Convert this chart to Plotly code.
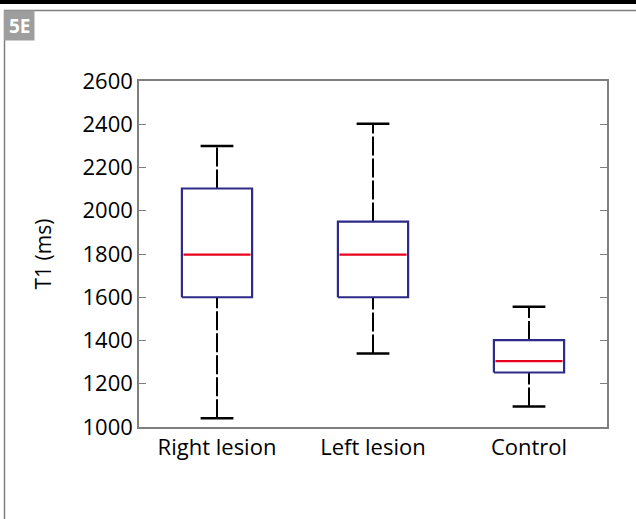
import plotly.graph_objects as go

categories = ["Right lesion", "Left lesion", "Control"]
whisker_low = [1040, 1340, 1095]
q1 = [1600, 1600, 1252]
median = [1797, 1797, 1305]
q3 = [2103, 1950, 1402]
whisker_high = [2300, 2402, 1556]

yticks = [1000, 1200, 1400, 1600, 1800, 2000, 2200, 2400, 2600]

BOX_HALF = 0.225
CAP_HALF = 0.105
NAVY = "#2e2a88"
RED = "#e8001c"
FONT = "Open Sans"

fig = go.Figure()
pos = list(range(1, len(categories) + 1))
for i, p in enumerate(pos):
    # whiskers (dashed)
    fig.add_trace(go.Scatter(x=[p, p], y=[q3[i], whisker_high[i]], mode="lines",
                             line=dict(color="black", width=2, dash="19px,3px"),
                             hoverinfo="skip", showlegend=False))
    fig.add_trace(go.Scatter(x=[p, p], y=[whisker_low[i], q1[i]], mode="lines",
                             line=dict(color="black", width=2, dash="19px,3px"),
                             hoverinfo="skip", showlegend=False))
    # caps
    for v in (whisker_low[i], whisker_high[i]):
        fig.add_trace(go.Scatter(x=[p - CAP_HALF, p + CAP_HALF], y=[v, v], mode="lines",
                                 line=dict(color="black", width=2.5),
                                 hoverinfo="skip", showlegend=False))
    # box
    fig.add_trace(go.Scatter(x=[p - BOX_HALF, p + BOX_HALF, p + BOX_HALF, p - BOX_HALF, p - BOX_HALF],
                             y=[q1[i], q1[i], q3[i], q3[i], q1[i]], mode="lines",
                             fill="toself", fillcolor="white",
                             line=dict(color=NAVY, width=2.2),
                             hoverinfo="skip", showlegend=False))
    # median
    fig.add_trace(go.Scatter(x=[p - BOX_HALF + 0.01, p + BOX_HALF - 0.01], y=[median[i], median[i]],
                             mode="lines", line=dict(color=RED, width=2.2),
                             hoverinfo="skip", showlegend=False))

fig.update_layout(
    width=636, height=519,
    margin=dict(l=139, r=29, t=81, b=92),
    paper_bgcolor="white", plot_bgcolor="white",
    font=dict(family=FONT, size=22, color="black"),
    showlegend=False,
    xaxis=dict(range=[0.5, 3.5], tickvals=pos, ticktext=categories, ticks="",
               showgrid=False, zeroline=False, showline=True, linecolor="#7f7f7f",
               linewidth=1.5, mirror=True, tickfont=dict(size=22)),
    yaxis=dict(range=[1000, 2600], tickvals=yticks, ticks="inside", ticklen=7,
               tickcolor="#7f7f7f", tickwidth=1, showgrid=False, zeroline=False,
               showline=True, linecolor="#7f7f7f", linewidth=1.5, mirror="ticks",
               title=dict(text="T1 (ms)", font=dict(size=21), standoff=25),
               tickfont=dict(size=22)),
)

# frame decorations in pixel-based paper coordinates
W, H = 636, 519
pl, pt, pw, ph = 139, 81, 468, 346
def px(x):
    return (x - pl) / pw
def py(y):
    return (pt + ph - y) / ph

fig.add_shape(type="rect", xref="paper", yref="paper", x0=px(0), x1=px(W), y0=py(4), y1=py(0),
              fillcolor="black", line=dict(width=0))
fig.add_shape(type="line", xref="paper", yref="paper", x0=px(4), x1=px(W), y0=py(10.5), y1=py(10.5),
              line=dict(color="#808080", width=1.5))
fig.add_shape(type="line", xref="paper", yref="paper", x0=px(4.5), x1=px(4.5), y0=py(10.5), y1=py(H + 5),
              line=dict(color="#808080", width=1.5))
fig.add_shape(type="rect", xref="paper", yref="paper", x0=px(4), x1=px(34.5), y0=py(40.5), y1=py(10.5),
              fillcolor="#9e9e9e", line=dict(width=0))
fig.add_annotation(xref="paper", yref="paper", x=px(19.5), y=py(26), text="<b>5E</b>", showarrow=False,
                   font=dict(family=FONT, size=19, color="white"), xanchor="center", yanchor="middle")

fig.write_html("out.html")
